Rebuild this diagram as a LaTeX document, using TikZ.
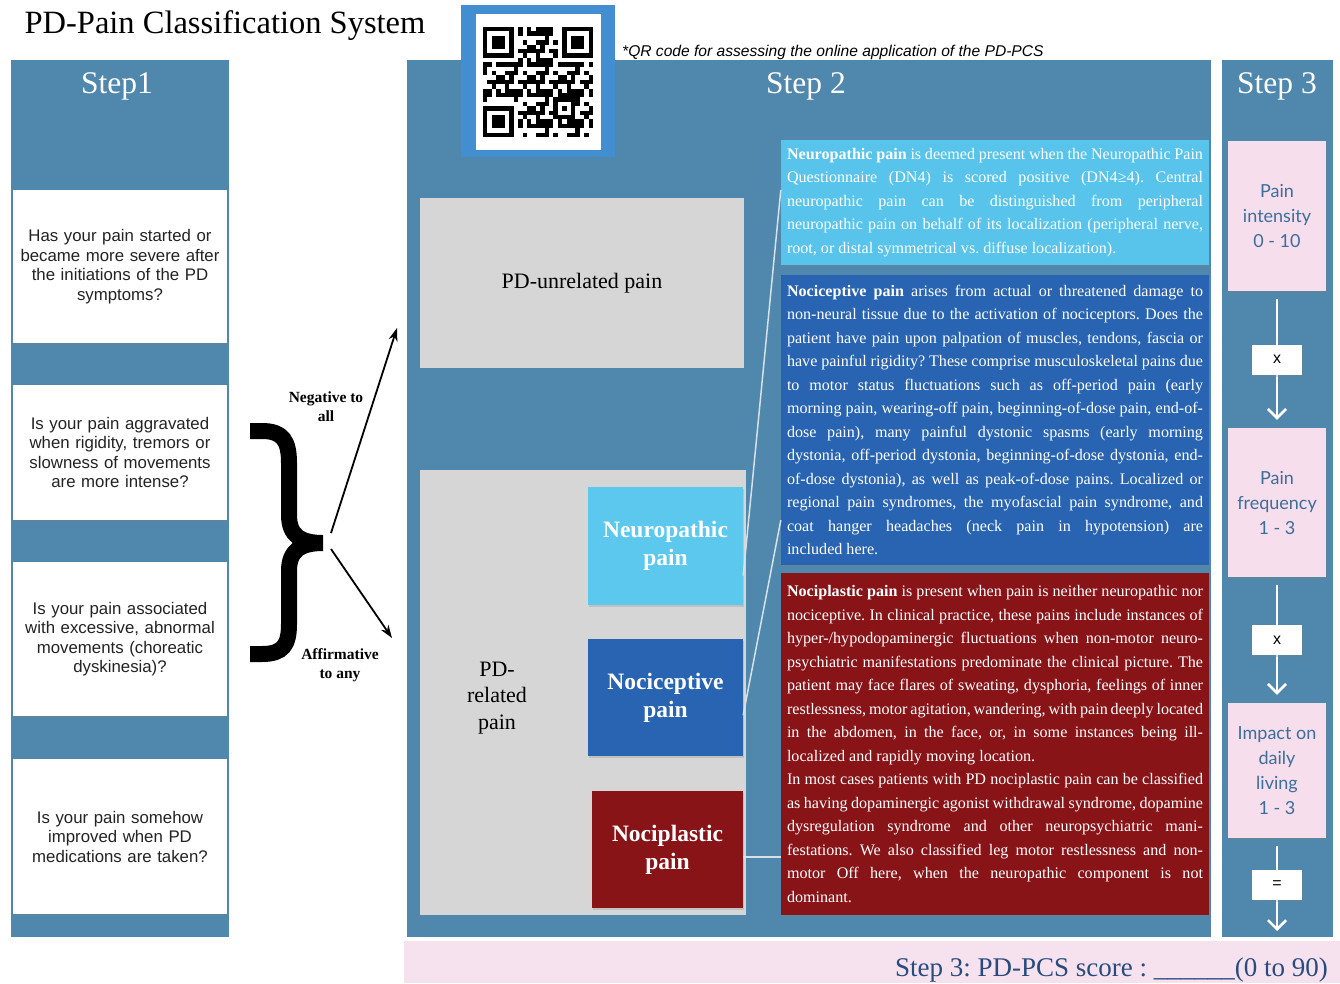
\documentclass[tikz,border=0pt]{standalone}
\usepackage{fontspec}
\setmainfont{Liberation Serif}
\newfontfamily\sansf{Liberation Sans}
\newfontfamily\latof{Lato}
\usetikzlibrary{arrows.meta,calc,shadows}
\definecolor{stepblue}{RGB}{80,135,172}
\definecolor{qrblue}{RGB}{66,142,208}
\definecolor{greyfill}{RGB}{214,214,214}
\definecolor{neurofill}{RGB}{92,200,238}
\definecolor{neurodesc}{RGB}{88,196,236}
\definecolor{nocifill}{RGB}{40,100,178}
\definecolor{noplfill}{RGB}{137,20,24}
\definecolor{pinkfill}{RGB}{246,222,237}
\definecolor{pinkbar}{RGB}{246,226,239}
\definecolor{stthree}{RGB}{60,110,155}
\definecolor{scoretxt}{RGB}{40,75,125}
\definecolor{qtext}{RGB}{35,35,35}
\definecolor{connc}{RGB}{215,225,232}
\frenchspacing
\newcommand\descfont{\fontsize{16.1}{23.5}\selectfont\frenchspacing\parindent=0pt\tolerance=10000\hyphenpenalty=10000\exhyphenpenalty=10000\relax}
\begin{document}
\begin{tikzpicture}[x=1pt,y=-1pt,
  panel/.style={fill=stepblue, inner sep=0pt, anchor=north west},
  hdr/.style={anchor=base, text=white, inner sep=0pt, font=\fontsize{31.5}{36}\selectfont},
  qbox/.style={fill=white, inner sep=0pt, minimum width=214pt, text width=210pt, align=center, text=qtext,
     font=\sansf\fontsize{16.8}{19.5}\selectfont, drop shadow={opacity=0.25, shadow xshift=1pt, shadow yshift=-2pt}},
  greyb/.style={fill=greyfill, inner sep=0pt, font=\fontsize{22}{26.5}\selectfont},
  typeb/.style={inner sep=0pt, text=white, align=center, font=\bfseries\fontsize{23.5}{28}\selectfont,
     drop shadow={opacity=0.25, shadow xshift=1pt, shadow yshift=-2pt}},
  descb/.style={inner xsep=6pt, inner ysep=0pt, text width=416pt, align=justify, text=white, font=\descfont,
     drop shadow={opacity=0.25, shadow xshift=1pt, shadow yshift=-2pt}},
  conn/.style={draw=connc, line width=1.5pt},
  pinkb/.style={fill=pinkfill, inner sep=0pt, minimum width=98pt, align=center, text=stthree,
     font=\latof\fontsize{18}{25}\selectfont, drop shadow={opacity=0.25, shadow xshift=1pt, shadow yshift=-2pt}},
  opb/.style={fill=white, inner sep=0pt, minimum width=50pt, minimum height=30pt, font=\sansf\fontsize{16}{18}\selectfont,
     drop shadow={opacity=0.25, shadow xshift=1pt, shadow yshift=-2pt}},
  warrow/.style={draw=white, line width=2.6pt, -{Straight Barb[length=9pt,width=18pt,line width=2.6pt]}},
  barrow/.style={draw=black, line width=1.8pt, -{Stealth[length=13pt,width=9pt]}},
  lbl/.style={align=center, inner sep=0pt, font=\bfseries\fontsize{15.5}{19}\selectfont}
]
\useasboundingbox (0,0) rectangle (1340,983);
\fill[white] (0,0) rectangle (1340,983);

% panels
\node[panel, minimum width=218pt, minimum height=877pt] (p1) at (11,60) {};
\node[panel, minimum width=804pt, minimum height=877pt] (p2) at (407,60) {};
\node[panel, minimum width=111pt, minimum height=877pt] (p3) at (1222,60) {};
\node[hdr] (h1) at (117,93) {Step1};
\node[hdr] (h2) at (806,93) {Step 2};
\node[hdr] (h3) at (1277,93) {Step 3};

% title
\node[anchor=base, inner sep=0pt, font=\fontsize{32.5}{38}\selectfont] (title) at (225,33) {PD-Pain Classification System};

% QR code
\node[fill=qrblue, minimum width=154pt, minimum height=152pt, inner sep=0pt] (qrf) at (538,81) {};
\node[fill=white, minimum width=125pt, minimum height=136pt, inner sep=0pt] (qrw) at (538.5,82) {};
\begin{scope}[shift={(483,27)}]
  \foreach \i in {0,...,24}{\foreach \j in {0,...,24}{
    \edef\hh{\the\numexpr \i*\i*\i*31+\j*\j*\j*17+\i*\j*\j*13+\i*\i*\j*7+\i*53+\j*97\relax}%
    \edef\vv{\the\numexpr \hh-7*((\hh-3)/7)\relax}%
    \ifnum\vv<4 \fill[black] ({\i*4.4},{\j*4.4}) rectangle ++(4.45,4.45);\fi
  }}
  \foreach \a/\b in {0/0,18/0,0/18}{
    \fill[white] ({(\a-1)*4.4},{(\b-1)*4.4}) rectangle ++(39.6,39.6);
    \fill[black] ({\a*4.4},{\b*4.4}) rectangle ++(30.8,30.8);
    \fill[white] ({\a*4.4+4.4},{\b*4.4+4.4}) rectangle ++(22,22);
    \fill[black] ({\a*4.4+8.8},{\b*4.4+8.8}) rectangle ++(13.2,13.2);
  }
  \fill[black] ({16*4.4},{16*4.4}) rectangle ++(22,22);
  \fill[white] ({17*4.4},{17*4.4}) rectangle ++(13.2,13.2);
  \fill[black] ({18*4.4},{18*4.4}) rectangle ++(4.4,4.4);
\end{scope}
\node[anchor=base west, inner sep=0pt, font=\sansf\itshape\fontsize{15.6}{18}\selectfont] (qrnote) at (622,56) {*QR code for assessing the online application of the PD-PCS};

% Step 1 questions
\node[qbox, minimum height=153pt] (q1) at (120,266.5) {Has your pain started or\\became more severe after\\the initiations of the PD\\symptoms?};
\node[qbox, minimum height=135pt] (q2) at (120,452.5) {Is your pain aggravated\\when rigidity, tremors or\\slowness of movements\\are more intense?};
\node[qbox, minimum height=154pt] (q3) at (120,639) {Is your pain associated\\with excessive, abnormal\\movements (choreatic\\dyskinesia)?};
\node[qbox, minimum height=155pt] (q4) at (120,836.5) {Is your pain somehow\\improved when PD\\medications are taken?};

% brace
\draw[line width=16pt, line join=miter, black]
  (250,431) -- (262,431) .. controls (283,431) and (289,441) .. (289,463) -- (289,515)
  .. controls (289,535) and (300,543) .. (323,543)
  .. controls (300,543) and (289,551) .. (289,571) -- (289,624)
  .. controls (289,645) and (283,654) .. (262,654) -- (250,654);
\coordinate (bs1) at (331,533);
\coordinate (bs2) at (331,549);
\coordinate (be1) at (397,328);
\coordinate (be2) at (392,638);
\draw[barrow] (bs1) -- (be1);
\draw[barrow] (bs2) -- (be2);
\node[lbl] (neg) at (326,407) {Negative to\\all};
\node[lbl] (aff) at (340,665) {Affirmative\\to any};

% Step 2 grey boxes
\node[greyb, minimum width=324pt, minimum height=170pt] (unrel) at (582,283) {PD-unrelated pain};
\node[greyb, minimum width=326pt, minimum height=445pt] (rel) at (583,692.5) {};
\node[align=center, inner sep=0pt, font=\fontsize{22}{26.5}\selectfont] (reltxt) at (497,698) {PD-\\related\\pain};

\node[typeb, fill=neurofill, minimum width=155pt, minimum height=118pt] (neuro) at (665.5,546) {Neuropathic\\pain};
\node[typeb, fill=nocifill, minimum width=155pt, minimum height=117pt] (noci) at (665.5,697.5) {Nociceptive\\pain};
\node[typeb, fill=noplfill, minimum width=151pt, minimum height=117pt] (nopl) at (667.5,849.5) {Nociplastic\\pain};

% descriptions
\node[descb, fill=neurodesc, minimum height=125pt] (dneuro) at (995,202.5) {%
\textbf{Neuropathic pain} is deemed present when the Neuropathic Pain\linebreak
Questionnaire (DN4) is scored positive (DN4≥4). Central\linebreak
neuropathic pain can be distinguished from peripheral\linebreak
neuropathic pain on behalf of its localization (peripheral nerve,\linebreak
root, or distal symmetrical vs. diffuse localization).};

\node[descb, fill=nocifill, minimum height=290pt] (dnoci) at (995,420) {%
\textbf{Nociceptive pain} arises from actual or threatened damage to\linebreak
non-neural tissue due to the activation of nociceptors. Does the\linebreak
patient have pain upon palpation of muscles, tendons, fascia or\linebreak
have painful rigidity? These comprise musculoskeletal pains due\linebreak
to motor status fluctuations such as off-period pain (early\linebreak
morning pain, wearing-off pain, beginning-of-dose pain, end-of-\linebreak
dose pain), many painful dystonic spasms (early morning\linebreak
dystonia, off-period dystonia, beginning-of-dose dystonia, end-\linebreak
of-dose dystonia), as well as peak-of-dose pains. Localized or\linebreak
regional pain syndromes, the myofascial pain syndrome, and\linebreak
coat hanger headaches (neck pain in hypotension) are\linebreak
included here.};

\node[descb, fill=noplfill, minimum height=342pt] (dnopl) at (995,744) {%
\textbf{Nociplastic pain} is present when pain is neither neuropathic nor\linebreak
nociceptive. In clinical practice, these pains include instances of\linebreak
hyper-/hypodopaminergic fluctuations when non-motor neuro-\linebreak
psychiatric manifestations predominate the clinical picture. The\linebreak
patient may face flares of sweating, dysphoria, feelings of inner\linebreak
restlessness, motor agitation, wandering, with pain deeply located\linebreak
in the abdomen, in the face, or, in some instances being ill-\linebreak
localized and rapidly moving location.\par
In most cases patients with PD nociplastic pain can be classified\linebreak
as having dopaminergic agonist withdrawal syndrome, dopamine\linebreak
dysregulation syndrome and other neuropsychiatric mani-\linebreak
festations. We also classified leg motor restlessness and non-\linebreak
motor Off here, when the neuropathic component is not\linebreak
dominant.};

% connectors
\draw[conn] ($(dneuro.north west)!0.4!(dneuro.south west)$) -- ($(neuro.north east)!0.75!(neuro.south east)$);
\draw[conn] ($(dnoci.north west)!0.845!(dnoci.south west)$) -- ($(noci.north east)!0.65!(noci.south east)$);
\draw[conn] (nopl.east |- {$(dnopl.north west)!0.83!(dnopl.south west)$}) -- ($(dnopl.north west)!0.83!(dnopl.south west)$);

% Step 3
\node[pinkb, minimum height=150pt] (s1) at (1277,216) {Pain\\intensity\\0 - 10};
\node[pinkb, minimum height=149pt] (s2) at (1277,502.5) {Pain\\frequency\\1 - 3};
\node[pinkb, minimum height=135pt] (s3) at (1277,770.5) {Impact on\\daily\\living\\1 - 3};
\coordinate (send) at (1277,931);
\draw[warrow, shorten <=8pt, shorten >=8pt] (s1) -- node[opb] (x1) {x} (s2);
\draw[warrow, shorten <=8pt, shorten >=8pt] (s2) -- node[opb] (x2) {x} (s3);
\draw[warrow, shorten <=8pt] (s3) -- node[opb] (eq) {=} (send);

% bottom bar
\node[fill=pinkbar, minimum width=936pt, minimum height=42pt, inner sep=0pt, anchor=north west] (bar) at (404,941) {};
\node[anchor=base east, inner sep=0pt, text=scoretxt, font=\fontsize{27}{30}\selectfont] (score) at (1328,976) {Step 3: PD-PCS score : \_\_\_\_\_\_(0 to 90)};
\end{tikzpicture}
\end{document}
